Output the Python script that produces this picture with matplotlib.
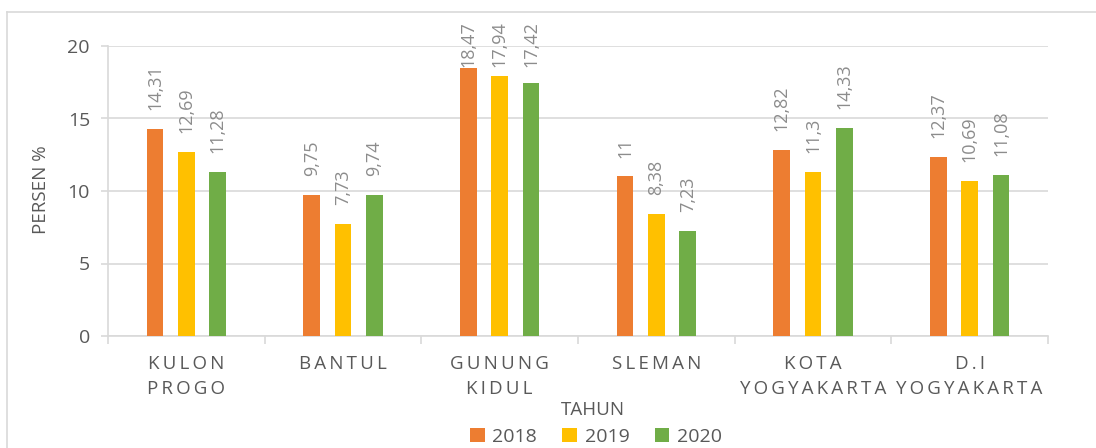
import matplotlib
matplotlib.use("Agg")
import matplotlib.pyplot as plt
from matplotlib.patches import Patch
from matplotlib.lines import Line2D
import numpy as np

categories = ["KULON\nPROGO", "BANTUL", "GUNUNG\nKIDUL",
              "SLEMAN", "KOTA\nYOGYAKARTA", "D.I\nYOGYAKARTA"]
years = ["2018", "2019", "2020"]
v2018 = [14.31, 9.75, 18.47, 11.00, 12.82, 12.37]
v2019 = [12.69, 7.73, 17.94, 8.38, 11.30, 10.69]
v2020 = [11.28, 9.74, 17.42, 7.23, 14.33, 11.08]
labels2018 = ["14,31", "9,75", "18,47", "11", "12,82", "12,37"]
labels2019 = ["12,69", "7,73", "17,94", "8,38", "11,3", "10,69"]
labels2020 = ["11,28", "9,74", "17,42", "7,23", "14,33", "11,08"]
colors = ["#ED7D31", "#FFC000", "#70AD47"]

plt.rcParams['font.family'] = ['Open Sans', 'DejaVu Sans']
W, H = 1096, 448
fig = plt.figure(figsize=(W / 100, H / 100), dpi=100)
ax = fig.add_axes([108 / W, 1 - 336 / H, (1048 - 108) / W, (336 - 46) / H])

def spaced(s):
    return "\n".join("\u2009".join(line) for line in s.split("\n"))

x = np.arange(len(categories))
offs = [-0.2, 0.0, 0.2]
bw = 0.107
px_per_unit = (336 - 46) / 20.0
gap = 19 / px_per_unit          # gap between bar top and label (data units)
lab_len = 46 / px_per_unit      # approx label length (data units)
top_limit = (336 - 21) / px_per_unit  # labels kept inside chart area
for vals, labs, c, o in zip([v2018, v2019, v2020], [labels2018, labels2019, labels2020], colors, offs):
    bars = ax.bar(x + o, vals, width=bw, color=c, zorder=3)
    for b, lab in zip(bars, labs):
        y = b.get_height() + gap
        if y + lab_len > top_limit:
            ax.text(b.get_x() + b.get_width() / 2, top_limit, lab, rotation=90,
                    ha="center", va="top", fontsize=13, color="#8c8c8c", clip_on=False)
        else:
            ax.text(b.get_x() + b.get_width() / 2, y, lab, rotation=90,
                    ha="center", va="bottom", fontsize=13, color="#8c8c8c", clip_on=False)

ax.set_xlim(-0.5, len(categories) - 0.5)
ax.set_ylim(0, 20)
ax.set_yticks([0, 5, 10, 15, 20])
ax.grid(axis="y", color="#d9d9d9", linewidth=1.2, zorder=0)
ax.set_axisbelow(True)
for s in ["top", "right"]:
    ax.spines[s].set_visible(False)
ax.spines["left"].set_color("#d9d9d9")
ax.spines["bottom"].set_color("#d9d9d9")
ax.spines["left"].set_linewidth(1.2)
ax.spines["bottom"].set_linewidth(1.2)
ax.tick_params(axis="y", colors="#d9d9d9", labelcolor="#595959", labelsize=14,
               length=5, width=1.2, pad=8)
ax.set_xticks(x)
ax.set_xticklabels([spaced(c) for c in categories], fontsize=13.5, color="#595959", linespacing=1.45)
ax.set_xticks(np.arange(-0.5, len(categories), 1.0), minor=True)
ax.tick_params(axis="x", which="major", length=0, pad=14)
ax.tick_params(axis="x", which="minor", length=6, width=1.2, color="#d9d9d9")

fig.text(41 / W, 1 - 190 / H, "PERSEN %", rotation=90, ha="center", va="center",
         fontsize=13.5, color="#595959")

fig.text(593 / W, 1 - 410 / H, "TAHUN", ha="center", va="center", fontsize=13.5, color="#595959")
handles = [Patch(facecolor=c, label=y) for c, y in zip(colors, years)]
leg = fig.legend(handles=handles, loc="center", bbox_to_anchor=(596 / W, 1 - 437 / H), ncol=3,
                 frameon=False, fontsize=14, handlelength=0.75, handleheight=0.75,
                 handletextpad=0.4, columnspacing=1.3, borderpad=0)
for t in leg.get_texts():
    t.set_color("#595959")

# outer chart border (left and top)
fig.add_artist(Line2D([7 / W, 7 / W], [0, 1 - 12.5 / H], color="#d9d9d9", linewidth=1.2, transform=fig.transFigure))
fig.add_artist(Line2D([7 / W, 1], [1 - 12.5 / H, 1 - 12.5 / H], color="#d9d9d9", linewidth=1.2, transform=fig.transFigure))

fig.savefig("out.png", dpi=100, facecolor="white")
